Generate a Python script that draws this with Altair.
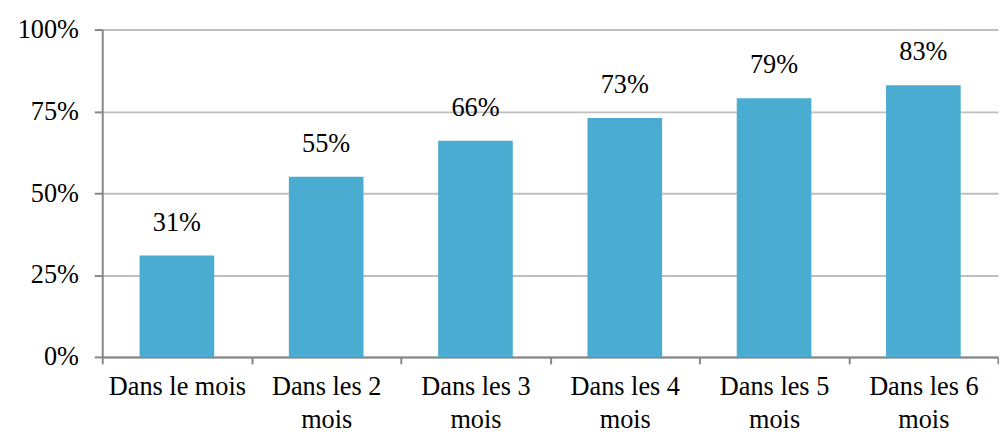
import altair as alt
import pandas as pd

categories = ["Dans le mois", "Dans les 2\nmois", "Dans les 3\nmois",
              "Dans les 4\nmois", "Dans les 5\nmois", "Dans les 6\nmois"]
values = [0.31, 0.55, 0.66, 0.73, 0.79, 0.83]
labels = ["31%", "55%", "66%", "73%", "79%", "83%"]

df = pd.DataFrame({"cat": categories, "val": values, "lab": labels})

FONT = "Liberation Serif"
FS = 26.5
x = alt.X("cat:N", sort=categories, title=None,
          scale=alt.Scale(paddingInner=0, paddingOuter=0),
          axis=alt.Axis(labelAngle=0, tickBand="extent", tickSize=7,
                        labelFont=FONT, labelFontSize=FS, labelColor="#000000",
                        labelPadding=10, labelLineHeight=33,
                        minExtent=50, maxExtent=50,
                        domainColor="#868686", tickColor="#868686",
                        domainWidth=2, tickWidth=2,
                        labelExpr="split(datum.label, '\\n')"))
y = alt.Y("val:Q", title=None,
          scale=alt.Scale(domain=[0, 1]),
          axis=alt.Axis(values=[0, 0.25, 0.5, 0.75, 1], format=".0%",
                        labelFont=FONT, labelFontSize=FS, labelColor="#000000",
                        tickSize=8, labelPadding=16,
                        minExtent=90, maxExtent=90,
                        grid=True, gridColor="#BFBFBF", gridWidth=2,
                        domainColor="#868686", tickColor="#868686",
                        domainWidth=2, tickWidth=2))

bars = alt.Chart(df).mark_bar(color="#4BACD1",
                              width=alt.RelativeBandSize(0.5)).encode(x=x, y=y)
text = alt.Chart(df).mark_text(font=FONT, fontSize=FS, dy=-19, color="#000000",
                               baseline="bottom").encode(
    x=alt.X("cat:N", sort=categories), y="val:Q", text="lab:N")

chart = (bars + text).properties(
    width=903, height=330,
    padding={"left": 5, "top": 7, "right": 0, "bottom": 0},
).configure_view(stroke=None)

chart.save("out.html", embed_options={"renderer": "svg", "actions": False})
